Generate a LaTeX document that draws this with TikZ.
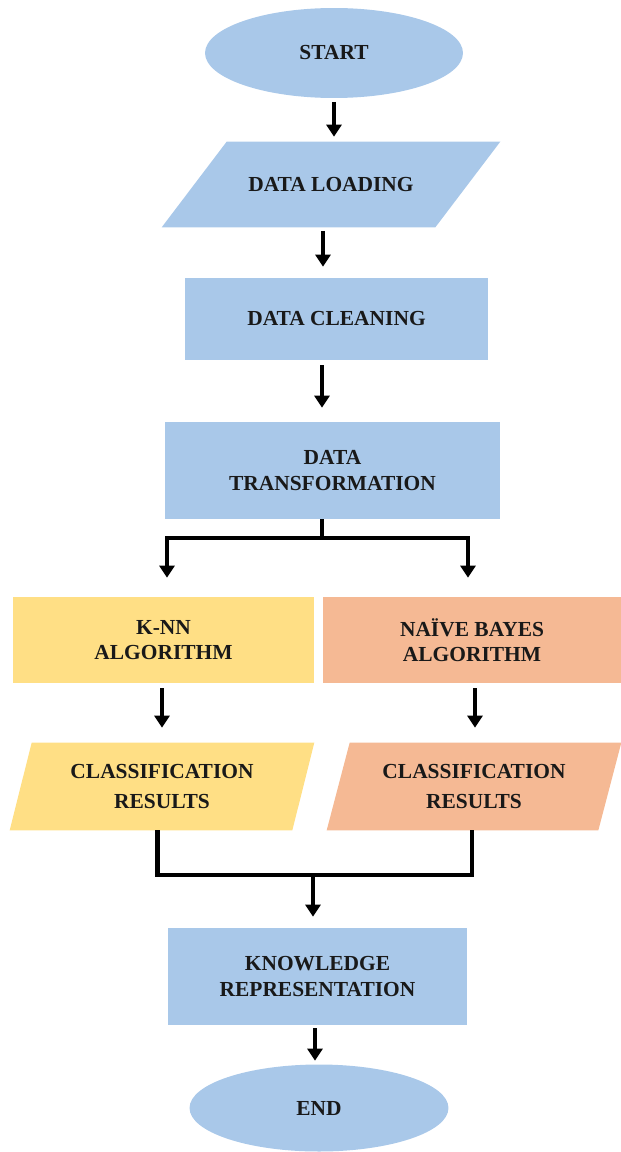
\documentclass[tikz,border=0pt]{standalone}
\usepackage{fontspec}
\setmainfont{Liberation Serif}
\usetikzlibrary{shapes.geometric,arrows.meta,backgrounds}

\definecolor{flowblue}{HTML}{A9C8E9}
\definecolor{flowyellow}{HTML}{FFDF85}
\definecolor{floworange}{HTML}{F5B994}

\tikzset{
  flowtext/.style={inner sep=0pt, align=center, text=black!90,
    font=\bfseries\fontsize{12.2}{14.5}\selectfont},
  terminal/.style={flowtext, ellipse, fill=flowblue},
  process/.style={flowtext, rectangle, fill=#1},
  inout/.style={flowtext, rectangle},
  flowline/.style={line width=2.4pt},
  flowarrow/.style={flowline, -{Triangle[width=8.5pt,length=6.8pt]}}
}

% slanted box behind an inout node: #1 node, #2 colour, #3 slant
\newcommand{\slantfill}[3]{%
  \fill[#2] ([xshift=#3]#1.north west) -- (#1.north east)
    -- ([xshift=-#3]#1.south east) -- (#1.south west) -- cycle;}

\begin{document}
\begin{tikzpicture}[x=0.02cm,y=-0.02cm]
        \useasboundingbox (0,0) rectangle (621,1152);
        % main column
        \node[terminal, minimum width=5.16cm, minimum height=1.8cm] (start) at (334,53) {START};
        \node[inout, minimum width=6.76cm, minimum height=1.7cm] (dload) at (331,184.5) {DATA LOADING};
        \node[process=flowblue, minimum width=6.06cm, minimum height=1.64cm] (dclean) at (336.5,319) {DATA CLEANING};
        \node[process=flowblue, minimum width=6.7cm, minimum height=1.94cm] (dtrans) at (332.5,470.5) {DATA\\TRANSFORMATION};
        % two branches
        \node[process=flowyellow, minimum width=6.02cm, minimum height=1.72cm] (knn) at (163.5,640) {K-NN\\ALGORITHM};
        \node[process=floworange, minimum width=5.96cm, minimum height=1.72cm] (nbayes) at (472,640) {NAÏVE  BAYES\\ALGORITHM};
        \node[inout, minimum width=6.08cm, minimum height=1.74cm,
              font=\bfseries\fontsize{12.2}{17}\selectfont] (classl) at (162,786.5) {CLASSIFICATION\\RESULTS};
        \node[inout, minimum width=5.88cm, minimum height=1.74cm,
              font=\bfseries\fontsize{12.2}{17}\selectfont] (classr) at (474,786.5) {CLASSIFICATION\\RESULTS};
        % end
        \node[process=flowblue, minimum width=5.98cm, minimum height=1.94cm] (krep) at (317.5,976.5) {KNOWLEDGE\\REPRESENTATION};
        \node[terminal, minimum width=5.18cm, minimum height=1.74cm] (end) at (319,1108) {END};

        \begin{scope}[on background layer]
          \slantfill{dload}{flowblue}{1.3cm}
          \slantfill{classl}{flowyellow}{0.44cm}
          \slantfill{classr}{floworange}{0.46cm}
        \end{scope}

        \coordinate (fork) at (322,538);
        \coordinate (merge) at (313,875);

        \draw[flowarrow, shorten <=2pt, shorten >=0.1cm] (start.south) -- (dload.north -| start);
        \draw[flowarrow, shorten <=2pt, shorten >=0.22cm] ([xshift=-0.16cm]dload.south) -- ([xshift=-0.16cm]dload.south |- dclean.north);
        \draw[flowarrow, shorten <=0.1cm, shorten >=0.28cm] ([xshift=-0.29cm]dclean.south) -- ([xshift=-0.29cm]dclean.south |- dtrans.north);
        \draw[flowline] (dtrans.south -| fork) -- (fork);
        \draw[flowarrow, shorten >=0.38cm] (fork) -| ([xshift=0.07cm]knn.north);
        \draw[flowarrow, shorten >=0.38cm] (fork) -| ([xshift=-0.08cm]nbayes.north);
        \draw[flowarrow, shorten <=0.1cm, shorten >=0.3cm] ([xshift=-0.03cm]knn.south) -- ([xshift=-0.03cm]knn.south |- classl.north);
        \draw[flowarrow, shorten <=0.1cm, shorten >=0.3cm] ([xshift=0.06cm]nbayes.south) -- ([xshift=0.06cm]nbayes.south |- classr.north);
        \draw[flowline] ([xshift=-0.12cm]classl.south -| knn) |- (merge) -| (classr.south -| nbayes);
        \draw[flowarrow, shorten >=0.22cm] (merge) -- (merge |- krep.north);
        \draw[flowarrow, shorten <=0.06cm, shorten >=2pt] ([xshift=-0.05cm]krep.south) -- ([xshift=-0.05cm]krep.south |- end.north);
    \end{tikzpicture}
\end{document}
